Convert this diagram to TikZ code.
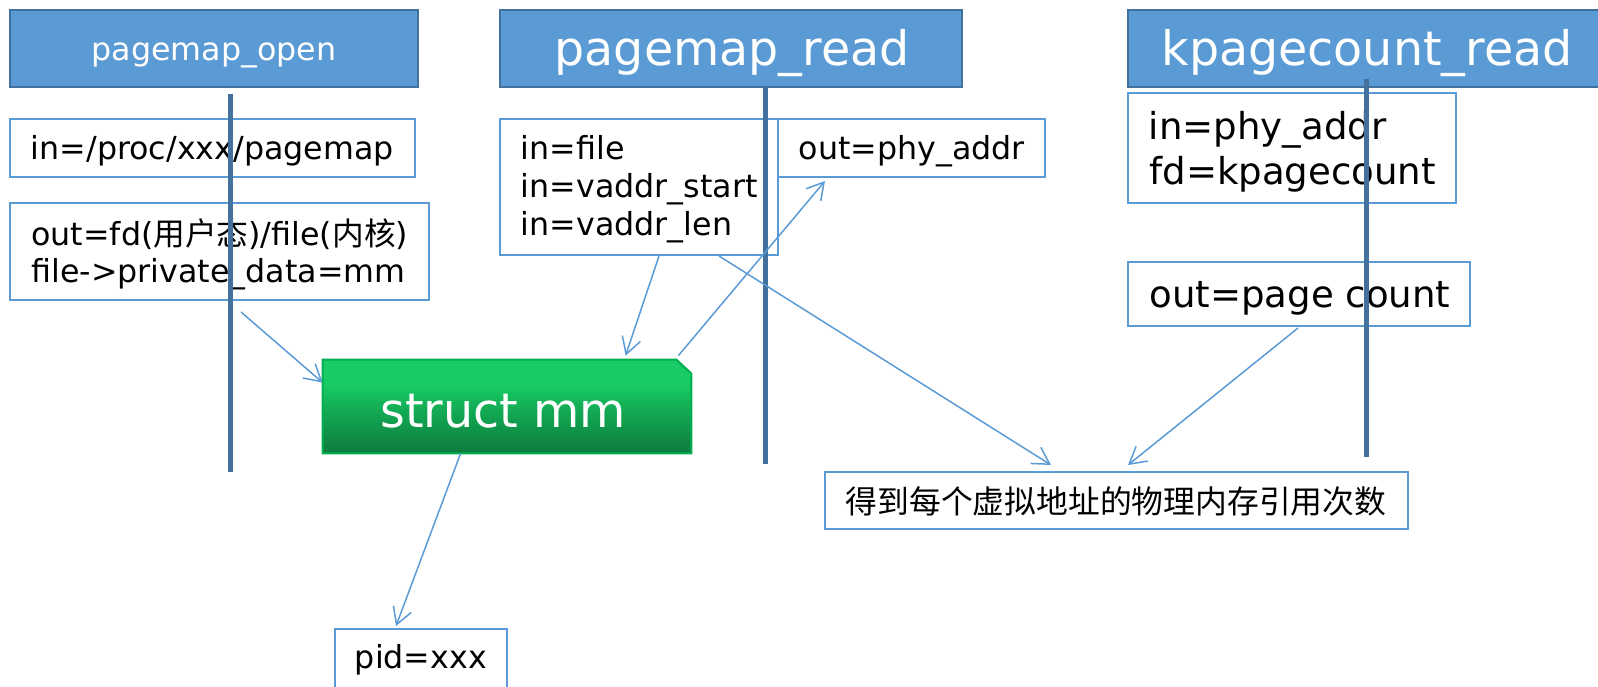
\documentclass[tikz,border=0pt]{standalone}
\usepackage{fontspec}
\setmainfont{DejaVu Sans}
\newfontfamily\cjk{Noto Sans CJK SC}
\usetikzlibrary{arrows.meta,calc}
\definecolor{hdfill}{HTML}{5B9BD5}
\definecolor{hdline}{HTML}{41719C}
\definecolor{bxline}{HTML}{5B9BD5}
\definecolor{mmtop}{HTML}{18CB65}
\definecolor{mmmid}{HTML}{12A853}
\definecolor{mmdark}{HTML}{0D7A3D}
\definecolor{mmborder}{HTML}{00B050}
\pgfdeclareverticalshading{mmshade}{100bp}{color(0bp)=(mmdark); color(25bp)=(mmdark); color(47bp)=(mmmid); color(62bp)=(mmtop); color(100bp)=(mmtop)}
\begin{document}
\begin{tikzpicture}[x=0.5pt,y=-0.5pt,
  header/.style={draw=hdline, line width=1.25pt, fill=hdfill, inner sep=0pt},
  box/.style={draw=bxline, line width=1pt, fill=white, inner sep=0pt},
  lifeline/.style={draw=hdline, line width=2.5pt},
  conn/.style={draw=bxline, line width=0.75pt, -{Straight Barb[length=8.25pt,width=9.5pt]}},
  txt/.style={inner sep=0pt, text=black},
  fs/.style={font=\fontsize{15.85pt}{19pt}\selectfont},
  fm/.style={font=\fontsize{18.55pt}{22pt}\selectfont},
  fl/.style={font=\fontsize{23.75pt}{28pt}\selectfont},
  fc/.style={font=\fontsize{15.9pt}{19pt}\selectfont\cjk}]
\clip (0,0) rectangle (1598,686);
% headers
\node[header, minimum width=204pt, minimum height=38.5pt] (h1) at (214,48.5) {};
\node[header, minimum width=231pt, minimum height=38.5pt] (h2) at (731,48.5) {};
\node[header, minimum width=238pt, minimum height=38.5pt] (h3) at (1366,48.5) {};
\node[txt, fs, text=white, anchor=base] (h1t) at (214,60) {pagemap\_open};
\node[txt, fl, text=white, anchor=base] (h2t) at (732,65) {pagemap\_read};
\node[txt, fl, text=white, anchor=base] (h3t) at (1367,65) {kpagecount\_read};
% boxes
\node[box, minimum width=202.5pt, minimum height=29pt] (b1) at (212.5,148) {};
\node[box, minimum width=209.5pt, minimum height=48.5pt] (b2) at (219.5,251.5) {};
\node[box, minimum width=139pt, minimum height=68pt] (b3) at (639,187) {};
\node[box, minimum width=133.5pt, minimum height=29pt] (b4) at (911.5,148) {};
\node[box, minimum width=164pt, minimum height=55pt] (b5) at (1292,148) {};
\node[box, minimum width=171pt, minimum height=32pt] (b6) at (1299,294) {};
\node[box, minimum width=86pt, minimum height=31pt] (pid) at (421,660) {};
\node[box, minimum width=291.5pt, minimum height=28.5pt] (cn) at (1116.5,500.5) {};
% box texts
\node[txt, fs, anchor=base west] (b1t) at (30.5,159.5) {in=/proc/xxx/pagemap};
\node[txt, fs, anchor=base west] (b2ta) at (31,245) {out=fd({\cjk 用户态})/file({\cjk 内核})};
\node[txt, fs, anchor=base west] (b2tb) at (31,282) {file->private\_data=mm};
\node[txt, fs, anchor=base west] (b3ta) at (520.5,159.5) {in=file};
\node[txt, fs, anchor=base west] (b3tb) at (520.5,197.5) {in=vaddr\_start};
\node[txt, fs, anchor=base west] (b3tc) at (520.5,235.5) {in=vaddr\_len};
\node[txt, fs, anchor=base west] (b4t) at (798.5,159.5) {out=phy\_addr};
\node[txt, fm, anchor=base west] (b5ta) at (1148.5,139) {in=phy\_addr};
\node[txt, fm, anchor=base west] (b5tb) at (1149,184) {fd=kpagecount};
\node[txt, fm, anchor=base west] (b6t) at (1149,307) {out=page count};
\node[txt, fs, anchor=base west] (pidt) at (354.5,668.5) {pid=xxx};
\node[txt, fc, anchor=center] (cnt) at (1116,501) {得到每个虚拟地址的物理内存引用次数};
% lifelines
\draw[lifeline] (230,94) -- (230,472);
\draw[lifeline] (765,87) -- (765,464);
\draw[lifeline] (1366,79) -- (1366,457);
% struct mm
\node[inner sep=0pt, minimum width=184pt, minimum height=46.5pt] (mm) at (507,406.5) {};
\shadedraw[shading=mmshade, draw=mmborder, line width=1pt] (mm.south west) -- (mm.north west) -- ($(mm.north east)+(-15,0)$) -- ($(mm.north east)+(0,14)$) -- (mm.south east) -- cycle;
\node[txt, fl, text=white, anchor=base] (mmt) at (503,427) {struct mm};
% connectors
\draw[conn] ($(b2.south west)+(232,11)$) -- ($(mm.north west)+(0,23)$);
\draw[conn] ($(b3.south west)+(160,0)$) -- ($(mm.north west)+(303,-4)$);
\draw[conn] ($(mm.north east)+(-13,-4)$) -- ($(b4.south west)+(48,3)$);
\draw[conn] ($(b3.south west)+(220,0)$) -- ($(cn.north west)+(227,-6)$);
\draw[conn] ($(b6.south west)+(171,1)$) -- ($(cn.north west)+(304,-6)$);
\draw[conn] ($(mm.south west)+(138,0)$) -- ($(pid.north west)+(62,-2)$);
\end{tikzpicture}
\end{document}
